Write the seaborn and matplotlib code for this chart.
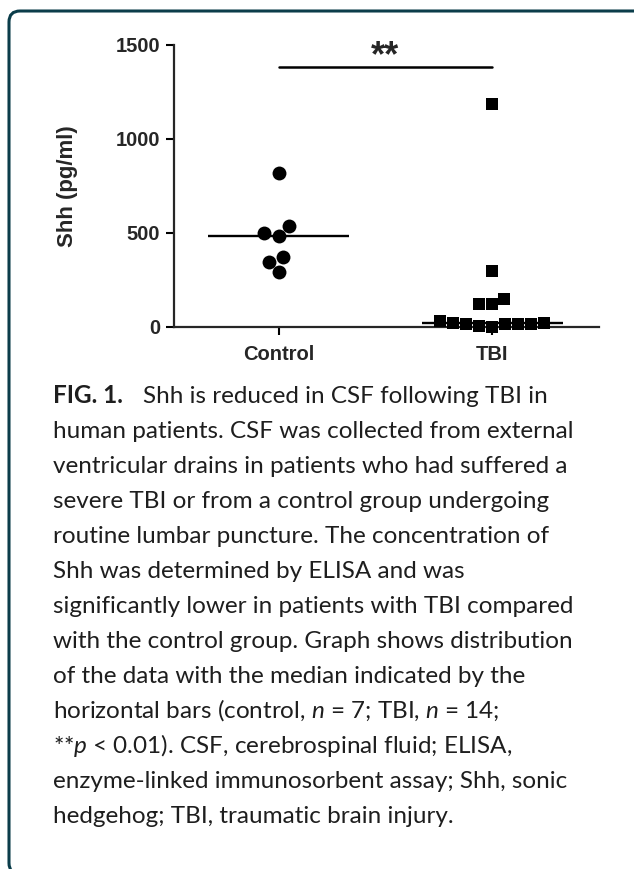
import numpy as np
import pandas as pd
import matplotlib
matplotlib.use("Agg")
import matplotlib.pyplot as plt
import seaborn as sns
from matplotlib.patches import FancyBboxPatch
from matplotlib.transforms import IdentityTransform

# values (pg/ml)
groups = ["Control", "TBI"]
control = [820, 539, 500, 486, 374, 347, 290]
tbi = [1185, 299, 148, 121, 121, 32, 21, 21, 18, 18, 17, 17, 5, 0]
yticks = [0, 500, 1000, 1500]
sig_y = 1384
sig_text = "**"
ylabel = "Shh (pg/ml)"

caption_head = "FIG. 1."
caption = [
    "Shh is reduced in CSF following TBI in",
    "human patients. CSF was collected from external",
    "ventricular drains in patients who had suffered a",
    "severe TBI or from a control group undergoing",
    "routine lumbar puncture. The concentration of",
    "Shh was determined by ELISA and was",
    "significantly lower in patients with TBI compared",
    "with the control group. Graph shows distribution",
    "of the data with the median indicated by the",
    r"horizontal bars (control, $n$ = 7; TBI, $n$ = 14;",
    r"**$p$ < 0.01). CSF, cerebrospinal fluid; ELISA,",
    "enzyme-linked immunosorbent assay; Shh, sonic",
    "hedgehog; TBI, traumatic brain injury.",
]

sns.set_style("ticks")
plt.rcParams["font.family"] = ["Liberation Sans", "DejaVu Sans"]
plt.rcParams["mathtext.fontset"] = "custom"
plt.rcParams["mathtext.rm"] = "Lato"
plt.rcParams["mathtext.it"] = "Lato:italic"

df = pd.DataFrame({
    "group": ["Control"] * len(control) + ["TBI"] * len(tbi),
    "shh": control + tbi,
})

W, H = 634, 869
fig = plt.figure(figsize=(W / 100, H / 100), dpi=100)
ax = fig.add_axes([174 / W, 1 - 327 / H, 425 / W, 282 / H])

sns.swarmplot(data=df[df["group"] == "Control"], x="group", y="shh", order=groups,
              marker="o", color="black", size=10, linewidth=0, ax=ax, clip_on=False, zorder=3)
sns.swarmplot(data=df[df["group"] == "TBI"], x="group", y="shh", order=groups,
              marker="s", color="black", size=9, linewidth=0, ax=ax, clip_on=False, zorder=3)

# median bars
for i, vals in enumerate([control, tbi]):
    ax.hlines(np.median(vals), i - 0.33, i + 0.33, color="black", lw=1.7, zorder=2)

# significance bar
ax.plot([0, 1], [sig_y, sig_y], color="black", lw=1.8, clip_on=False)
ax.text(0.5, 1390, sig_text, ha="center", va="baseline", fontsize=26, fontweight="bold")

ax.set_xlim(-0.49, 1.50)
ax.set_ylim(0, 1500)
ax.set_yticks(yticks)
ax.set_xlabel("")
ax.set_ylabel("")
sns.despine(ax=ax)
for s in ["left", "bottom"]:
    ax.spines[s].set_linewidth(1.6)
ax.tick_params(axis="both", length=5.8, width=1.5, color="black")
ax.tick_params(axis="y", pad=4)
ax.tick_params(axis="x", pad=7)
for lab in ax.get_xticklabels() + ax.get_yticklabels():
    lab.set_fontsize(14.5)
    lab.set_fontweight("bold")

fig.text(67 / W, 1 - 186 / H, ylabel, rotation=90, ha="center", va="center",
         fontsize=16, fontweight="bold")

# caption
cap_font = dict(family=["Lato", "DejaVu Sans"], fontsize=17.5, color="#1e1e1e")
x0 = 53 / W
renderer = fig.canvas.get_renderer()
head = fig.text(x0, 1 - 403 / H, caption_head, fontweight="bold", va="baseline", **cap_font)
hw = head.get_window_extent(renderer=renderer).width
for i, line in enumerate(caption):
    y = 1 - (403 + 35 * i) / H
    x = x0 + (hw + 20) / W if i == 0 else x0
    fig.text(x, y, line, va="baseline", **cap_font)

# rounded frame at top-left
frame = FancyBboxPatch((9, -5), 700, 863, boxstyle="round,pad=0,rounding_size=11",
                       transform=IdentityTransform(), fill=False,
                       edgecolor="#0b3d4a", linewidth=2.2)
fig.add_artist(frame)

fig.savefig("out.png", dpi=100)
